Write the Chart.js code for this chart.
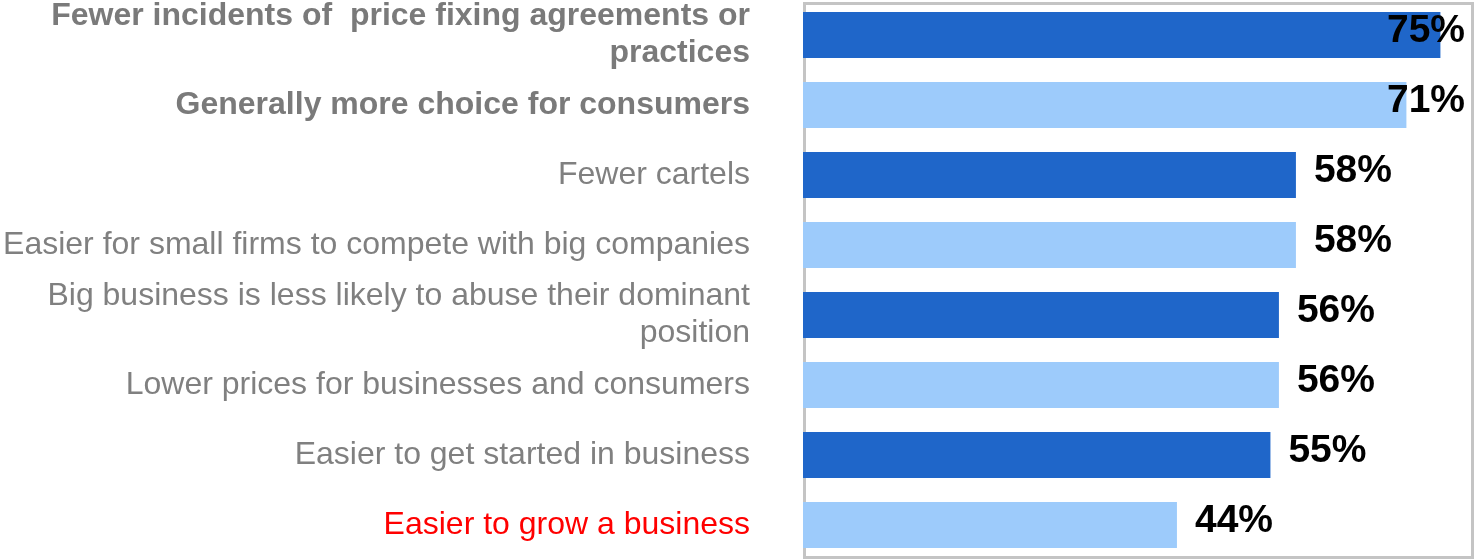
<!DOCTYPE html>
<html>
<head>
<meta charset="utf-8">
<script src="https://cdn.jsdelivr.net/npm/chart.js@4/dist/chart.umd.min.js"></script>
<style>
  html, body { margin: 0; padding: 0; background: #fff; }
  #wrap { width: 1476px; height: 560px; position: relative; }
</style>
</head>
<body>
<div id="wrap"><canvas id="benefitsChart"></canvas></div>
<script>
const categories = [
    ["Fewer incidents of  price fixing agreements or", "practices"],
    "Generally more choice for consumers",
    "Fewer cartels",
    "Easier for small firms to compete with big companies",
    ["Big business is less likely to abuse their dominant", "position"],
    "Lower prices for businesses and consumers",
    "Easier to get started in business",
    "Easier to grow a business"
];
const values = [75, 71, 58, 58, 56, 56, 55, 44];
const barColors = ['#1f66c9', '#9dcbfb', '#1f66c9', '#9dcbfb', '#1f66c9', '#9dcbfb', '#1f66c9', '#9dcbfb'];
const labelColors = ['#7a7a7a', '#7a7a7a', '#808080', '#808080', '#808080', '#808080', '#808080', '#ff0000'];
const boldLabels = [true, true, false, false, false, false, false, false];

// grey frame round the plot area
const framePlugin = {
    id: 'frame',
    beforeDatasetsDraw(chart) {
        const a = chart.chartArea;
        const c = chart.ctx;
        c.save();
        c.strokeStyle = '#c4c4c4';
        c.lineWidth = 3;
        c.strokeRect(a.left + 1.5, a.top + 3.5, a.right - a.left, a.bottom - a.top - 6);
        c.restore();
    }
};

// percentage labels at bar ends, kept inside the frame
const valueLabels = {
    id: 'valueLabels',
    afterDatasetsDraw(chart) {
        const c = chart.ctx;
        const a = chart.chartArea;
        const meta = chart.getDatasetMeta(0);
        c.save();
        c.font = 'bold 39px "Liberation Sans", Arial, sans-serif';
        c.fillStyle = '#000';
        c.textBaseline = 'middle';
        meta.data.forEach(function (bar, i) {
            const txt = values[i] + '%';
            const w = c.measureText(txt).width;
            let x = bar.x + 18;
            if (x + w > a.right - 6) x = a.right - 6 - w;
            c.fillText(txt, x, bar.y - 4);
        });
        c.restore();
    }
};

document.addEventListener('DOMContentLoaded', function () {
    const ctx = document.getElementById('benefitsChart');

    new Chart(ctx, {
        type: 'bar',
        data: {
            labels: categories,
            datasets: [{
                data: values,
                backgroundColor: barColors,
                borderWidth: 0,
                barPercentage: 0.66,
                categoryPercentage: 1
            }]
        },
        options: {
            indexAxis: 'y',
            responsive: true,
            maintainAspectRatio: false,
            animation: false,
            layout: { padding: { left: 0, right: 5, top: 0, bottom: 0 } },
            plugins: {
                legend: { display: false },
                tooltip: { enabled: false }
            },
            scales: {
                x: {
                    display: false,
                    min: 0,
                    max: 78.6
                },
                y: {
                    afterFit: function (scale) {
                        scale.width = 803;
                        scale.paddingTop = 0;
                        scale.paddingBottom = 0;
                    },
                    grid: { display: false, drawTicks: false },
                    border: { display: false },
                    ticks: {
                        autoSkip: false,
                        padding: 53,
                        color: function (c) { return labelColors[c.index]; },
                        font: function (c) {
                            return {
                                family: '"Liberation Sans", Arial, sans-serif',
                                size: 32,
                                weight: boldLabels[c.index] ? 'bold' : 'normal',
                                lineHeight: 1.16
                            };
                        }
                    }
                }
            }
        },
        plugins: [framePlugin, valueLabels]
    });
});
</script>
</body>
</html>
